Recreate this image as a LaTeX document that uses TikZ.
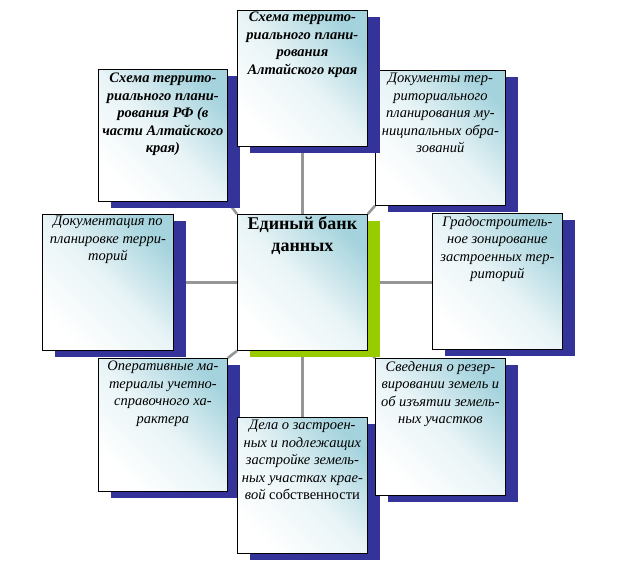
\documentclass[tikz,border=0pt]{standalone}
\usepackage{fontspec}
\setmainfont{Liberation Serif}
\usetikzlibrary{shadows}
\definecolor{shadowblue}{RGB}{51,51,153}
\definecolor{shadowgreen}{RGB}{153,204,0}
\definecolor{boxblue}{RGB}{165,211,221}
\definecolor{linkgray}{RGB}{150,150,150}
\pgfdeclarelayer{background}
\pgfsetlayers{background,main}
\begin{document}
\begin{tikzpicture}[x=1pt,y=-1pt,
  card/.style={draw=black, line width=0.8pt, rectangle, anchor=north west, inner sep=0pt,
    minimum width=130pt, minimum height=136pt,
    shading=axis, top color=boxblue, bottom color=white, middle color=white!75!boxblue, shading angle=-45,
    general shadow={fill=shadowblue, shadow xshift=13pt, shadow yshift=-7pt}},
  greencard/.style={card, general shadow={fill=shadowgreen, shadow xshift=13pt, shadow yshift=-7pt}},
  txt/.style={anchor=north, align=center, inner sep=0pt, font=\fontsize{14.5}{17.5}\selectfont\itshape},
  btxt/.style={txt, font=\fontsize{14.5}{17.5}\selectfont\bfseries\itshape},
  ctxt/.style={txt, font=\fontsize{18}{22}\selectfont\bfseries},
  link/.style={draw=linkgray, line width=2.6pt}]
\useasboundingbox (0,0) rectangle (621,570);
% top row
\node[card, minimum width=129pt, minimum height=132pt] (TL) at (98,69) {};
\node[btxt] (TLt) at ([yshift=-4pt]TL.north) {Схема террито-\\риального плани-\\рования РФ (в\\части Алтайского\\края)};
\node[card, minimum height=135pt] (TR) at (375,70) {};
\node[txt] (TRt) at ([yshift=-3pt]TR.north) {Документы тер-\\риториального\\планирования му-\\ниципальных обра-\\зований};
\node[card] (T) at (237,10) {};
\node[btxt] (Tt) at ([yshift=-2pt]T.north) {Схема террито-\\риального плани-\\рования\\Алтайского края};
% middle row
\node[card, minimum width=131pt] (L) at (42,214) {};
\node[txt] (Lt) at ([yshift=-2pt]L.north) {Документация по\\планировке терри-\\торий};
\node[greencard] (C) at (237,214) {};
\node[ctxt] (Ct) at ([yshift=-2pt]C.north) {Единый банк\\данных};
\node[card] (R) at (432,213) {};
\node[txt] (Rt) at ([yshift=-3pt]R.north) {Градостроитель-\\ное зонирование\\застроенных тер-\\риторий};
% bottom row
\node[card, minimum width=129pt, minimum height=133pt] (BL) at (98,358) {};
\node[txt] (BLt) at ([yshift=-3pt]BL.north) {Оперативные ма-\\териалы учетно-\\справочного ха-\\рактера};
\node[card] (B) at (237,417) {};
\node[txt] (Bt) at ([yshift=-3pt]B.north) {Дела о застроен-\\ных и подлежащих\\застройке земель-\\ных участках крае-\\вой {\upshape собственности}};
\node[card, minimum height=137pt] (BR) at (375,358) {};
\node[txt] (BRt) at ([yshift=-3pt]BR.north) {Сведения о резер-\\вировании земель и\\об изъятии земель-\\ных участков};
% connectors
\begin{pgfonlayer}{background}
\draw[link] (T.south) -- (C.north);
\draw[link] (C.south) -- (B.north);
\draw[link] (L.east) -- (C.west);
\draw[link] (C.east) -- (R.west |- C.east);
\draw[link] (C.north west) -- (TL.south east);
\draw[link] (C.north east) -- (TR.south west);
\draw[link] (C.south west) -- (BL.north east);
\draw[link] (C.south east) -- (BR.north west);
\end{pgfonlayer}
\end{tikzpicture}
\end{document}
